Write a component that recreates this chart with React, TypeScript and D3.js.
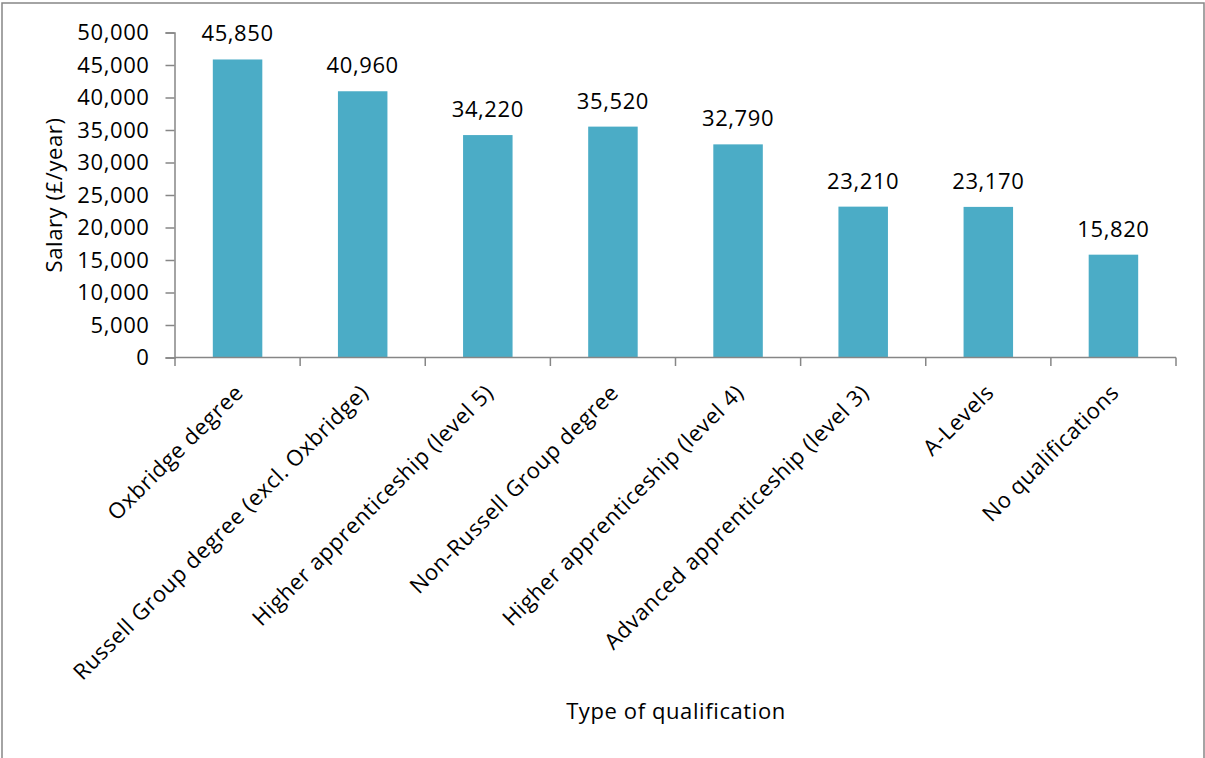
import * as d3 from "d3";
import { useEffect, useRef } from "react";

const categories = [
  "Oxbridge degree",
  "Russell Group degree (excl. Oxbridge)",
  "Higher apprenticeship (level 5)",
  "Non-Russell Group degree",
  "Higher apprenticeship (level 4)",
  "Advanced apprenticeship (level 3)",
  "A-Levels",
  "No qualifications",
];
const salaries = [45850, 40960, 34220, 35520, 32790, 23210, 23170, 15820];
const yTicks = [0, 5000, 10000, 15000, 20000, 25000, 30000, 35000, 40000, 45000, 50000];

export default function App() {
  const svgRef = useRef<SVGSVGElement | null>(null);
  const width = 1205;
  const height = 758;
  const font = "'Open Sans', sans-serif";

  useEffect(() => {
    document.body.style.margin = "0";
    const svg = d3.select(svgRef.current);
    svg.selectAll("*").remove();

    const x = d3.scaleBand<string>().domain(categories).range([175, 1176]).paddingInner(0).paddingOuter(0);
    const y = d3.scaleLinear().domain([0, 50000]).range([357.5, 32.5]);
    const fmt = d3.format(",");
    const axisColor = "#868686";

    const styleText = (sel: any) =>
      sel
        .style("font-family", font)
        .style("font-size", "22px")
        .style("letter-spacing", "0.6px")
        .attr("fill", "#000");

    // outer frame
    svg
      .append("rect")
      .attr("x", 2)
      .attr("y", 3)
      .attr("width", width - 3)
      .attr("height", height + 10)
      .attr("fill", "none")
      .attr("stroke", axisColor)
      .attr("stroke-width", 1.5);

    const bw = 49.5;
    svg
      .append("g")
      .selectAll("rect")
      .data(salaries)
      .join("rect")
      .attr("x", (_, i) => x(categories[i])! + x.bandwidth() / 2 - bw / 2)
      .attr("y", (d) => y(d))
      .attr("width", bw)
      .attr("height", (d) => y(0) - y(d))
      .attr("fill", "#4BACC6");

    svg
      .append("g")
      .selectAll("text")
      .data(salaries)
      .join("text")
      .attr("x", (_, i) => x(categories[i])! + x.bandwidth() / 2)
      .attr("y", (d) => y(d) - 18)
      .attr("text-anchor", "middle")
      .call(styleText)
      .text((d) => fmt(d));

    const yAxis = svg
      .append("g")
      .attr("transform", "translate(174.5,0)")
      .call(d3.axisLeft(y).tickValues(yTicks).tickSize(9).tickPadding(16).tickFormat((d) => fmt(d as number)));
    yAxis.select(".domain").attr("stroke", axisColor).attr("stroke-width", 1.5);
    yAxis.selectAll(".tick line").attr("stroke", axisColor).attr("stroke-width", 1.5);
    yAxis.selectAll(".tick text").call(styleText);

    const xAxis = svg
      .append("g")
      .attr("transform", "translate(0,357.5)")
      .call(d3.axisBottom(x).tickSize(0).tickFormat(() => ""));
    xAxis.select(".domain").attr("stroke", axisColor).attr("stroke-width", 1.5).attr("d", "M175,0H1176");
    xAxis.selectAll(".tick").remove();

    const boundaries = d3.range(categories.length + 1).map((i) => 175 + i * x.bandwidth());
    svg
      .append("g")
      .selectAll("line")
      .data(boundaries)
      .join("line")
      .attr("x1", (d) => d)
      .attr("x2", (d) => d)
      .attr("y1", 357.5)
      .attr("y2", 366)
      .attr("stroke", axisColor)
      .attr("stroke-width", 1.5);

    svg
      .append("g")
      .selectAll("text")
      .data(categories)
      .join("text")
      .attr("transform", (d) => `translate(${x(d)! + x.bandwidth() / 2 + 7},394) rotate(-45)`)
      .attr("text-anchor", "end")
      .call(styleText)
      .text((d) => d);

    svg
      .append("text")
      .attr("transform", "translate(62,195) rotate(-90)")
      .attr("text-anchor", "middle")
      .call(styleText)
      .text("Salary (£/year)");

    svg
      .append("text")
      .attr("x", 676)
      .attr("y", 719)
      .attr("text-anchor", "middle")
      .call(styleText)
      .text("Type of qualification");
  }, []);

  return <svg ref={svgRef} width={width} height={height} style={{ display: "block", background: "#fff" }} />;
}
